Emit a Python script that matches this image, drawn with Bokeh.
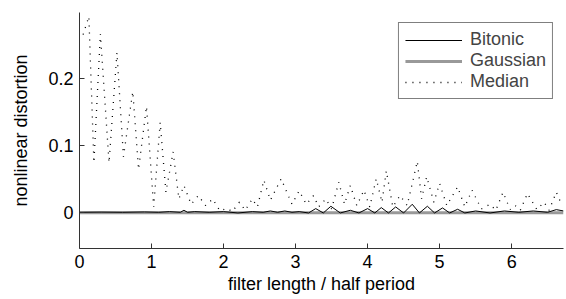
from bokeh.plotting import figure
from bokeh.models import Range1d, FixedTicker, Legend, LegendItem
from bokeh.embed import file_html
from bokeh.resources import INLINE

# ---- data ----
median_x = [0.05, 0.13, 0.20, 0.29, 0.41, 0.52, 0.61, 0.74, 0.82, 0.93,
            1.03, 1.12, 1.20, 1.30, 1.38, 1.45, 1.55, 1.65, 1.75, 1.85,
            1.95, 2.05, 2.12, 2.22, 2.30, 2.40, 2.47, 2.56, 2.65, 2.80,
            2.95, 3.05, 3.15, 3.25, 3.32, 3.42, 3.50, 3.60, 3.68, 3.76,
            3.85, 3.95, 4.03, 4.12, 4.20, 4.26, 4.35, 4.45, 4.55, 4.69,
            4.75, 4.82, 4.92, 5.00, 5.10, 5.25, 5.35, 5.45, 5.58, 5.70,
            5.78, 5.88, 5.98, 6.05, 6.12, 6.22, 6.35, 6.45, 6.52, 6.62,
            6.70]
median_y = [0.265, 0.292, 0.074, 0.266, 0.074, 0.238, 0.083, 0.180, 0.064, 0.158,
            0.008, 0.134, 0.030, 0.090, 0.020, 0.040, 0.012, 0.025, 0.010, 0.020,
            0.002, 0.006, 0.001, 0.015, 0.003, 0.020, 0.008, 0.048, 0.018, 0.050,
            0.012, 0.032, 0.012, 0.025, 0.008, 0.020, 0.005, 0.045, 0.012, 0.040,
            0.010, 0.033, 0.008, 0.050, 0.015, 0.062, 0.008, 0.025, 0.010, 0.076,
            0.020, 0.053, 0.015, 0.043, 0.010, 0.038, 0.008, 0.033, 0.005, 0.012,
            0.003, 0.030, 0.004, 0.010, 0.003, 0.028, 0.004, 0.015, 0.003, 0.030,
            0.010]

bitonic_x = [0.0, 0.3, 0.6, 0.9, 1.1, 1.25, 1.4, 1.45, 1.5, 1.6,
             1.8, 2.0, 2.2, 2.4, 2.55, 2.65, 2.75, 2.85, 2.95, 3.05,
             3.18, 3.28, 3.385, 3.49, 3.62, 3.76, 3.88, 4.0, 4.1, 4.19,
             4.29, 4.39, 4.5, 4.62, 4.72, 4.83, 4.93, 5.04, 5.14, 5.25,
             5.35, 5.5, 5.7, 5.9, 6.1, 6.3, 6.5, 6.62, 6.72]
bitonic_y = [0.0, 0.0003, 0.0, 0.0005, 0.0, 0.001, 0.0, 0.003, 0.0, 0.001,
             0.0, 0.001, -0.001, 0.001, 0.0, 0.002, 0.0, 0.002, 0.0, 0.001,
             -0.001, 0.0055, -0.001, 0.009, -0.001, 0.003, -0.001, 0.0055, -0.001, 0.007,
             -0.001, 0.008, -0.001, 0.012, -0.001, 0.009, -0.001, 0.0065, -0.001, 0.0045,
             -0.001, 0.002, -0.001, 0.002, 0.0, 0.002, 0.0, 0.004, 0.002]

gaussian_x = [0.0, 1.0, 2.0, 3.0, 4.0, 5.0, 6.0, 6.72]
gaussian_y = [-0.0005, -0.0005, -0.0005, -0.0008, -0.0008, -0.0008, -0.0008, -0.0005]

x_ticks = [0, 1, 2, 3, 4, 5, 6]
y_ticks = [0, 0.1, 0.2]
y_tick_labels = ["0", "0.1", "0.2"]

FONT = "Liberation Sans"

p = figure(width=566, height=299, output_backend="svg", toolbar_location=None,
           x_range=Range1d(0, 6.72), y_range=Range1d(-0.054, 0.298),
           min_border_left=79, min_border_right=3, min_border_top=12, min_border_bottom=51)
p.outline_line_color = None
p.grid.visible = False
p.background_fill_color = "white"

g = p.line(gaussian_x, gaussian_y, line_color="#999999", line_width=3)
b = p.line(bitonic_x, bitonic_y, line_color="black", line_width=1)
m = p.line(median_x, median_y, line_color="black", line_width=1.3, line_dash="1 6")

legend = Legend(items=[LegendItem(label="Bitonic", renderers=[b]),
                       LegendItem(label="Gaussian", renderers=[g]),
                       LegendItem(label="Median", renderers=[m])],
                location="top_right")
legend.label_text_font = FONT
legend.label_text_font_size = "18px"
legend.border_line_color = "black"
legend.border_line_width = 1
legend.glyph_width = 57
legend.glyph_height = 18
legend.label_standoff = 8
legend.spacing = 0
legend.padding = 6
legend.margin = 10
legend.label_height = 18
p.add_layout(legend)

for ax in (p.xaxis, p.yaxis):
    ax.axis_line_color = "#333333"
    ax.major_tick_line_color = "#333333"
    ax.major_tick_in = 5
    ax.major_tick_out = 0
    ax.minor_tick_line_color = None
    ax.major_label_text_font = FONT
    ax.major_label_text_font_size = "18px"
    ax.major_label_text_color = "black"
    ax.axis_label_text_font = FONT
    ax.axis_label_text_font_size = "18px"
    ax.axis_label_text_font_style = "normal"
    ax.axis_label_text_color = "black"

p.xaxis.ticker = FixedTicker(ticks=x_ticks)
p.yaxis.ticker = FixedTicker(ticks=y_ticks)
p.yaxis.major_label_overrides = {t: l for t, l in zip(y_ticks, y_tick_labels)}
p.xaxis.axis_label = "filter length / half period"
p.yaxis.axis_label = "nonlinear distortion"
p.xaxis.major_label_standoff = 6
p.yaxis.major_label_standoff = 6
p.xaxis.axis_label_standoff = 3
p.yaxis.axis_label_standoff = 14

open("out.html", "w").write(file_html(p, INLINE))
